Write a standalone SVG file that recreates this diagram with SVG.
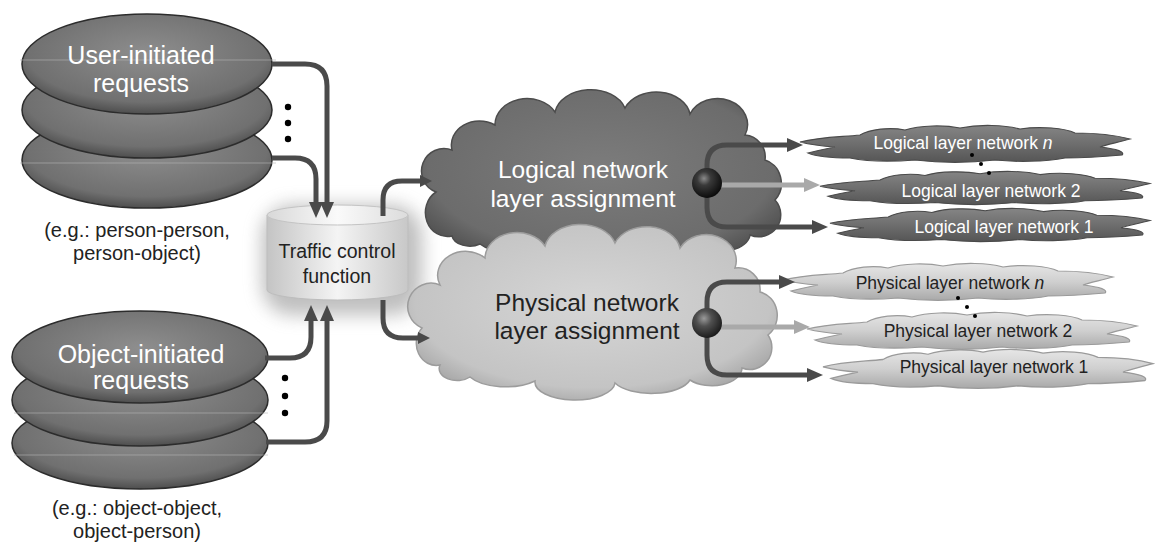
<svg xmlns="http://www.w3.org/2000/svg" width="1156" height="547" viewBox="0 0 1156 547">
<style>
.conn{fill:none;stroke:#4a4a4a;stroke-width:5}
.connl{fill:none;stroke:#a9a9a9;stroke-width:5}
.disk{stroke:#2c2c2c;stroke-width:1.5;fill:url(#gDisk)}
.grid{stroke:#b4b4b4;stroke-width:1;opacity:0.6}
.dot{fill:#000}
.big{font-family:"Liberation Sans",Arial,sans-serif;font-size:25px;text-anchor:middle}
.cl{font-family:"Liberation Sans",Arial,sans-serif;font-size:24.5px;text-anchor:middle}
.mid{font-family:"Liberation Sans",Arial,sans-serif;font-size:20px;text-anchor:middle;fill:#222}
.tc{font-family:"Liberation Sans",Arial,sans-serif;font-size:19.5px;text-anchor:middle;fill:#222}
.small{font-family:"Liberation Sans",Arial,sans-serif;font-size:17.5px;text-anchor:middle}
.w{fill:#ffffff}
.k{fill:#222222}
.lc{fill:url(#gLogSmall);stroke:#4a4a4a;stroke-width:1.2}
.pc{fill:url(#gPhySmall);stroke:#9a9a9a;stroke-width:1.2}
</style>
<defs>
<radialGradient id="gDisk" cx="50%" cy="40%" r="60%">
<stop offset="0" stop-color="#8e8e8e"/>
<stop offset="0.8" stop-color="#707070"/>
<stop offset="1" stop-color="#4e4e4e"/>
</radialGradient>
<radialGradient id="gLog" cx="50%" cy="45%" r="60%">
<stop offset="0" stop-color="#7c7c7c"/>
<stop offset="0.8" stop-color="#6c6c6c"/>
<stop offset="1" stop-color="#505050"/>
</radialGradient>
<radialGradient id="gPhy" cx="50%" cy="45%" r="60%">
<stop offset="0" stop-color="#d6d6d6"/>
<stop offset="0.8" stop-color="#c4c4c4"/>
<stop offset="1" stop-color="#a4a4a4"/>
</radialGradient>
<linearGradient id="gLogSmall" x1="0" y1="0" x2="0" y2="1">
<stop offset="0" stop-color="#858585"/>
<stop offset="0.5" stop-color="#6e6e6e"/>
<stop offset="1" stop-color="#555555"/>
</linearGradient>
<linearGradient id="gPhySmall" x1="0" y1="0" x2="0" y2="1">
<stop offset="0" stop-color="#e6e6e6"/>
<stop offset="0.5" stop-color="#cfcfcf"/>
<stop offset="1" stop-color="#a9a9a9"/>
</linearGradient>
<linearGradient id="gCylBody" x1="0" y1="0" x2="1" y2="0">
<stop offset="0" stop-color="#c4c4c4"/>
<stop offset="0.5" stop-color="#f4f4f4"/>
<stop offset="1" stop-color="#c8c8c8"/>
</linearGradient>
<linearGradient id="gCylTop" x1="0" y1="0" x2="1" y2="0">
<stop offset="0" stop-color="#d8d8d8"/>
<stop offset="0.5" stop-color="#fafafa"/>
<stop offset="1" stop-color="#dcdcdc"/>
</linearGradient>
<radialGradient id="gBall" cx="40%" cy="35%" r="65%">
<stop offset="0" stop-color="#8a8a8a"/>
<stop offset="0.35" stop-color="#3a3a3a"/>
<stop offset="1" stop-color="#0c0c0c"/>
</radialGradient>
<radialGradient id="gBall2" cx="40%" cy="35%" r="65%">
<stop offset="0" stop-color="#9a9a9a"/>
<stop offset="0.4" stop-color="#505050"/>
<stop offset="1" stop-color="#1c1c1c"/>
</radialGradient>
<filter id="blur" x="-50%" y="-50%" width="200%" height="200%">
<feGaussianBlur stdDeviation="9"/>
</filter>
<marker id="ad" markerUnits="userSpaceOnUse" markerWidth="16" markerHeight="14" refX="2" refY="7" orient="auto">
<path d="M0,0 L16,7 L0,14 Z" fill="#4a4a4a"/>
</marker>
<marker id="al" markerUnits="userSpaceOnUse" markerWidth="16" markerHeight="14" refX="2" refY="7" orient="auto">
<path d="M0,0 L16,7 L0,14 Z" fill="#a9a9a9"/>
</marker>
<marker id="as" markerUnits="userSpaceOnUse" markerWidth="12" markerHeight="12" refX="2" refY="6" orient="auto">
<path d="M0,0 L12,6 L0,12 Z" fill="#4a4a4a"/>
</marker>
<path id="flat" d="M0,17 C20,12 40,12 60,10 C70,4 90,2 105,5 C120,0 145,0 160,3 C180,-1 205,0 220,4 C240,1 265,3 275,8 C295,8 315,10 330,14 C315,18 305,20 300,22 C318,24 325,27 322,30 C300,32 280,33 265,33 C245,37 215,37 195,35 C170,38 140,38 115,35 C90,37 65,36 50,33 C30,33 15,31 8,28 C20,25 30,23 35,22 C20,21 8,19 0,17 Z"/>
</defs>
<rect width="1156" height="547" fill="#ffffff"/>

<g id="user-requests">
<ellipse class="disk" cx="147" cy="160" rx="125" ry="48"/>
<ellipse class="disk" cx="147" cy="110" rx="125" ry="48"/>
<ellipse class="disk" cx="147" cy="64" rx="125" ry="50"/>
<line class="grid" x1="20" y1="60" x2="276" y2="60"/>
<line class="grid" x1="20" y1="163" x2="276" y2="163"/>
<text class="big w" x="141" y="64">User-initiated</text>
<text class="big w" x="141" y="92">requests</text>
<circle class="dot" cx="288" cy="107" r="3.2"/>
<circle class="dot" cx="288" cy="123" r="3.2"/>
<circle class="dot" cx="288" cy="139" r="3.2"/>
<text class="mid" x="137" y="237">(e.g.: person-person,</text>
<text class="mid" x="137" y="260">person-object)</text>
</g>

<g id="object-requests">
<ellipse class="disk" cx="140" cy="443" rx="128" ry="46"/>
<ellipse class="disk" cx="140" cy="400" rx="128" ry="46"/>
<ellipse class="disk" cx="140" cy="357" rx="128" ry="46"/>
<line class="grid" x1="14" y1="413" x2="268" y2="413"/>
<line class="grid" x1="14" y1="455" x2="268" y2="455"/>
<text class="big w" x="141" y="363">Object-initiated</text>
<text class="big w" x="141" y="389">requests</text>
<circle class="dot" cx="285" cy="378" r="3.2"/>
<circle class="dot" cx="285" cy="396" r="3.2"/>
<circle class="dot" cx="285" cy="413" r="3.2"/>
<text class="mid" x="137" y="515">(e.g.: object-object,</text>
<text class="mid" x="137" y="538">object-person)</text>
</g>

<g id="traffic-control">
<rect x="262" y="205" width="160" height="110" rx="30" fill="#8a8a8a" opacity="0.55" filter="url(#blur)"/>
<path d="M267,215 V290 A70.5,10 0 0 0 408,290 V215 Z" fill="url(#gCylBody)" stroke="#bdbdbd" stroke-width="1"/>
<ellipse cx="337.5" cy="215" rx="70.5" ry="10" fill="url(#gCylTop)" stroke="#c4c4c4" stroke-width="1"/>
<text class="tc" x="337" y="258">Traffic control</text>
<text class="tc" x="337" y="283">function</text>
</g>

<g id="logical-assignment">
<path d="M452,236 A22,24 0 0 1 436,192 A22,22 0 0 1 452,150 A28,24 0 0 1 495,125 A32,26 0 0 1 555,112 A36,26 0 0 1 625,108 A34,26 0 0 1 690,114 A30,26 0 0 1 745,135 A22,22 0 0 1 765,160 A22,24 0 0 1 775,200 A22,22 0 0 1 750,235 A30,18 0 0 1 700,247 A40,18 0 0 1 625,248 A40,18 0 0 1 545,247 A40,18 0 0 1 480,244 A18,12 0 0 1 452,236 Z" fill="url(#gLog)" stroke="#4c4c4c" stroke-width="1.5"/>
<text class="cl w" x="583" y="178">Logical network</text>
<text class="cl w" x="583" y="207">layer assignment</text>
</g>

<g id="physical-assignment">
<path d="M440,365 A20,22 0 0 1 422,328 A22,22 0 0 1 440,285 A28,24 0 0 1 485,258 A32,26 0 0 1 545,246 A36,26 0 0 1 615,243 A34,26 0 0 1 680,248 A30,26 0 0 1 735,268 A22,22 0 0 1 760,292 A22,24 0 0 1 768,335 A22,22 0 0 1 742,368 A30,18 0 0 1 690,380 A40,18 0 0 1 615,383 A40,18 0 0 1 535,381 A40,18 0 0 1 470,377 A18,12 0 0 1 440,365 Z" fill="url(#gPhy)" stroke="#9c9c9c" stroke-width="1.5"/>
<text class="cl k" x="587" y="311">Physical network</text>
<text class="cl k" x="587" y="339">layer assignment</text>
</g>

<g id="logical-layers">
<use href="#flat" class="lc" transform="translate(830,208) scale(0.97,0.9)"/>
<use href="#flat" class="lc" transform="translate(820,171) scale(1,0.9)"/>
<use href="#flat" class="lc" transform="translate(800,125)"/>
<text class="small w" x="963" y="149">Logical layer network <tspan font-style="italic">n</tspan></text>
<text class="small w" x="991" y="197">Logical layer network 2</text>
<text class="small w" x="1004" y="233">Logical layer network 1</text>
<circle class="dot" cx="972" cy="155" r="2"/>
<circle class="dot" cx="981" cy="164" r="2"/>
<circle class="dot" cx="989" cy="173" r="2"/>
</g>

<g id="physical-layers">
<use href="#flat" class="pc" transform="translate(823,349) scale(1,1.05)"/>
<use href="#flat" class="pc" transform="translate(807,312)"/>
<use href="#flat" class="pc" transform="translate(783,263)"/>
<text class="small k" x="950" y="289">Physical layer network <tspan font-style="italic">n</tspan></text>
<text class="small k" x="978" y="337">Physical layer network 2</text>
<text class="small k" x="994" y="373">Physical layer network 1</text>
<circle class="dot" cx="958" cy="298" r="2"/>
<circle class="dot" cx="967" cy="307" r="2"/>
<circle class="dot" cx="975" cy="316" r="2"/>
</g>

<g id="connectors">
<path class="conn" marker-end="url(#ad)" d="M272,64 H305 Q327,64 327,86 V204"/>
<path class="conn" marker-end="url(#ad)" d="M272,158 H295 Q316,158 316,179 V204"/>
<path class="conn" marker-end="url(#ad)" d="M265,358 H290 Q311,358 311,337 V319"/>
<path class="conn" marker-end="url(#ad)" d="M266,442 H305 Q327,442 327,421 V319"/>
<path class="conn" marker-end="url(#as)" d="M383,216 V200 Q383,181 402,181 H422"/>
<path class="conn" marker-end="url(#as)" d="M383,300 V318 Q383,338 403,338 H420"/>
<path class="conn" marker-end="url(#ad)" d="M707,183 V165 Q707,145 727,145 H789"/>
<path class="connl" marker-end="url(#al)" d="M720,185 H806"/>
<path class="conn" marker-end="url(#ad)" d="M707,183 V207 Q707,227 727,227 H814"/>
<path class="conn" marker-end="url(#ad)" d="M707,323 V302 Q707,282 727,282 H781"/>
<path class="connl" marker-end="url(#al)" d="M720,327 H796"/>
<path class="conn" marker-end="url(#ad)" d="M707,323 V355 Q707,375 727,375 H809"/>
</g>

<g id="switch-logical">
<circle cx="707" cy="183" r="15" fill="url(#gBall)"/>
</g>
<g id="switch-physical">
<circle cx="707" cy="323" r="15" fill="url(#gBall2)"/>
</g>
</svg>
